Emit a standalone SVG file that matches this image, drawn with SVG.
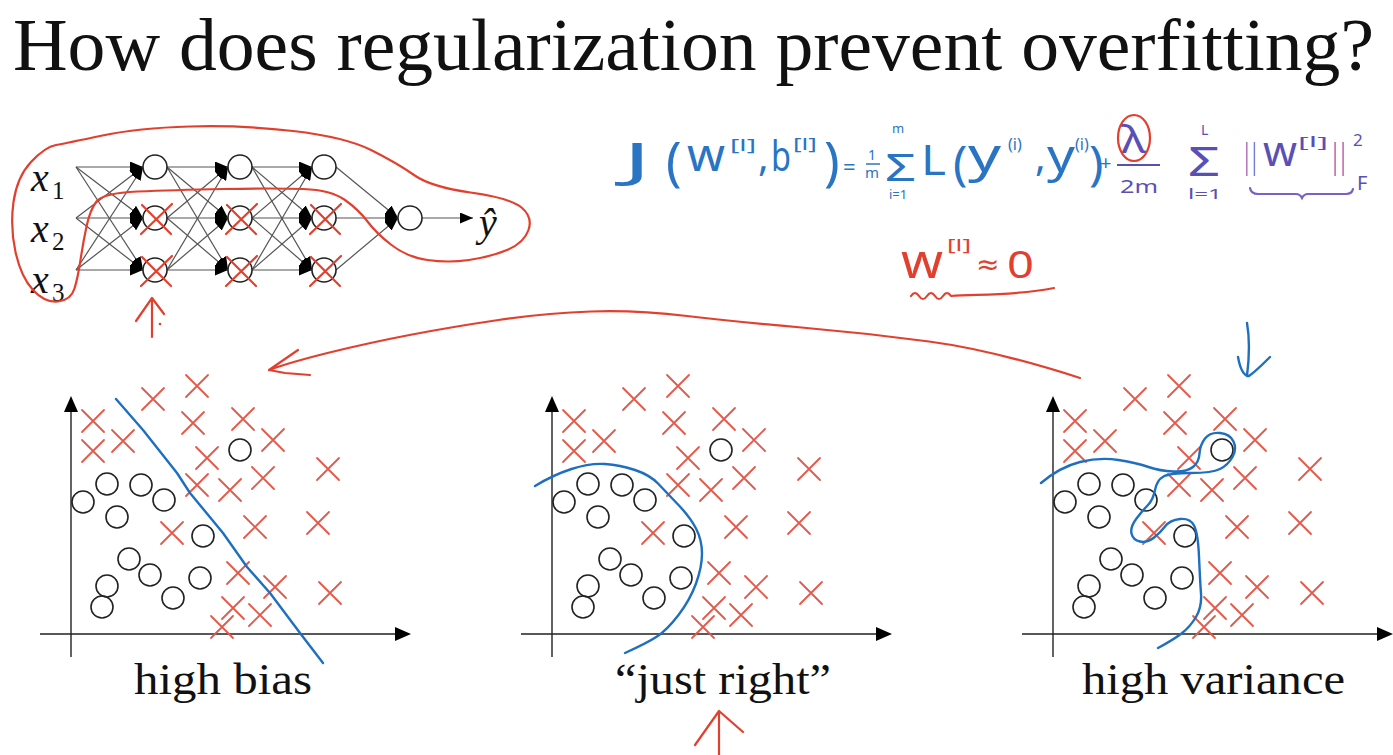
<svg xmlns="http://www.w3.org/2000/svg" xmlns:xlink="http://www.w3.org/1999/xlink" width="1393" height="755" viewBox="0 0 1393 755">
<style>
.ser{font-family:"Liberation Serif","Times New Roman",serif;fill:#111}
.it{font-style:italic}
.hw{font-family:"Noto Sans","DejaVu Sans",sans-serif}
.blue{fill:#2a74c4}
.purp{fill:#5a4fb5}
.redt{fill:#e2402f}
.edge{stroke:#555;stroke-width:1.2;fill:none}
.node{fill:#fff;stroke:#222;stroke-width:1.6}
.rx{stroke:#e5584a;stroke-width:1.8;fill:none;stroke-linecap:round}
.pc{fill:none;stroke:#222;stroke-width:1.6}
.ax{stroke:#222;stroke-width:1.4;fill:none}
.bl{fill:none;stroke:#1f6fc0;stroke-width:2.4;stroke-linecap:round;stroke-linejoin:round}
.rd{fill:none;stroke:#e2402f;stroke-width:2.2;stroke-linecap:round;stroke-linejoin:round}
.pu{fill:none;stroke:#7b5ec7;stroke-width:2.2;stroke-linecap:round}
</style>
<defs>
<marker id="ah" markerWidth="13" markerHeight="11" refX="13" refY="5.5" orient="auto" markerUnits="userSpaceOnUse"><path d="M0,0 L13,5.5 L0,11 z" fill="#000"/></marker>
<path id="xm" class="rx" d="M-11,-11 L11,11 M-11,11 L11,-11"/>
<path id="nx" class="rd" d="M-14,16 L17,-14 M-13,-13 L16,16"/>
<g id="axes">
<path class="ax" d="M71,657 L71,410 M40,634 L396,634"/>
<path d="M71,396 L64,412 L78,412 z M411,634 L395,627 L395,641 z" fill="#000"/>
</g>
<g id="pdata">
<use xlink:href="#xm" x="93" y="421"/><use xlink:href="#xm" x="93" y="451"/><use xlink:href="#xm" x="123" y="441"/>
<use xlink:href="#xm" x="153" y="399"/><use xlink:href="#xm" x="197" y="386"/><use xlink:href="#xm" x="193" y="423"/>
<use xlink:href="#xm" x="243" y="419"/><use xlink:href="#xm" x="273" y="440"/><use xlink:href="#xm" x="207" y="458"/>
<use xlink:href="#xm" x="197" y="485"/><use xlink:href="#xm" x="230" y="490"/><use xlink:href="#xm" x="263" y="478"/>
<use xlink:href="#xm" x="328" y="469"/><use xlink:href="#xm" x="255" y="527"/><use xlink:href="#xm" x="172" y="533"/>
<use xlink:href="#xm" x="318" y="523"/><use xlink:href="#xm" x="238" y="573"/><use xlink:href="#xm" x="275" y="587"/>
<use xlink:href="#xm" x="330" y="593"/><use xlink:href="#xm" x="233" y="608"/><use xlink:href="#xm" x="260" y="615"/>
<use xlink:href="#xm" x="222" y="627"/>
<circle class="pc" cx="240" cy="450" r="11"/><circle class="pc" cx="107" cy="484" r="11"/><circle class="pc" cx="141" cy="485" r="11"/>
<circle class="pc" cx="164" cy="500" r="11"/><circle class="pc" cx="83" cy="502" r="11"/><circle class="pc" cx="117" cy="517" r="11"/>
<circle class="pc" cx="203" cy="536" r="11"/><circle class="pc" cx="129" cy="559" r="11"/><circle class="pc" cx="150" cy="575" r="11"/>
<circle class="pc" cx="200" cy="578" r="11"/><circle class="pc" cx="107" cy="586" r="11"/><circle class="pc" cx="173" cy="598" r="11"/>
<circle class="pc" cx="102" cy="607" r="11"/>
</g>
</defs>
<rect width="1393" height="755" fill="#fff"/>

<text class="ser" x="13" y="70" font-size="74" textLength="1361" lengthAdjust="spacingAndGlyphs">How does regularization prevent overfitting?</text>

<!-- network connectors -->
<g id="connectors">
<g class="edge" marker-end="url(#ah)">
<line x1="76" y1="167" x2="143" y2="167"/><line x1="76" y1="167" x2="143" y2="218"/><line x1="76" y1="167" x2="143" y2="270"/>
<line x1="76" y1="218" x2="143" y2="167"/><line x1="76" y1="218" x2="143" y2="218"/><line x1="76" y1="218" x2="143" y2="270"/>
<line x1="76" y1="270" x2="143" y2="167"/><line x1="76" y1="270" x2="143" y2="218"/><line x1="76" y1="270" x2="143" y2="270"/>
<line x1="167" y1="167" x2="228" y2="167"/><line x1="167" y1="167" x2="228" y2="218"/><line x1="167" y1="167" x2="228" y2="270"/>
<line x1="167" y1="218" x2="228" y2="167"/><line x1="167" y1="218" x2="228" y2="218"/><line x1="167" y1="218" x2="228" y2="270"/>
<line x1="167" y1="270" x2="228" y2="167"/><line x1="167" y1="270" x2="228" y2="218"/><line x1="167" y1="270" x2="228" y2="270"/>
<line x1="252" y1="167" x2="312" y2="167"/><line x1="252" y1="167" x2="312" y2="218"/><line x1="252" y1="167" x2="312" y2="270"/>
<line x1="252" y1="218" x2="312" y2="167"/><line x1="252" y1="218" x2="312" y2="218"/><line x1="252" y1="218" x2="312" y2="270"/>
<line x1="252" y1="270" x2="312" y2="167"/><line x1="252" y1="270" x2="312" y2="218"/><line x1="252" y1="270" x2="312" y2="270"/>
<line x1="336" y1="167" x2="398" y2="218"/><line x1="336" y1="218" x2="398" y2="218"/><line x1="336" y1="270" x2="398" y2="218"/>
<line x1="422" y1="218" x2="473" y2="218"/>
</g>
</g>

<!-- network nodes -->
<g id="inputs">
<text class="ser it" x="31" y="191" font-size="40">x</text><text class="ser" x="52" y="199" font-size="25">1</text>
<text class="ser it" x="31" y="242" font-size="40">x</text><text class="ser" x="52" y="250" font-size="25">2</text>
<text class="ser it" x="31" y="293" font-size="40">x</text><text class="ser" x="52" y="301" font-size="25">3</text>
</g>
<g id="layer1"><circle class="node" cx="155" cy="167" r="12"/><circle class="node" cx="155" cy="218" r="12"/><circle class="node" cx="155" cy="270" r="12"/></g>
<g id="layer2"><circle class="node" cx="240" cy="167" r="12"/><circle class="node" cx="240" cy="218" r="12"/><circle class="node" cx="240" cy="270" r="12"/></g>
<g id="layer3"><circle class="node" cx="324" cy="167" r="12"/><circle class="node" cx="324" cy="218" r="12"/><circle class="node" cx="324" cy="270" r="12"/></g>
<g id="output"><circle class="node" cx="410" cy="218" r="12"/><text class="ser it" x="479" y="236" font-size="40">ŷ</text></g>

<!-- dropped-out units -->
<g id="dropout">
<use xlink:href="#nx" x="155" y="218"/><use xlink:href="#nx" x="240" y="218"/><use xlink:href="#nx" x="324" y="218"/>
<use xlink:href="#nx" x="155" y="270"/><use xlink:href="#nx" x="240" y="270"/><use xlink:href="#nx" x="324" y="270"/>
</g>
<path class="rd" d="M102.5,135.5 Q138,128 189.5,126.5 Q241,125 293,131 Q345,137 371,150 Q397,163 414,175 Q431,187 470.5,192.5 Q510,198 521.5,207.5 Q533,217 528.5,230 Q524,243 507,250 Q490,257 469,260 Q448,263 427.5,260 Q407,257 391.5,245 Q376,233 367.5,221.5 Q359,210 345,200 Q331,190 303.5,189 Q276,188 224,189 Q172,190 137.5,191.5 Q103,193 96.5,201.5 Q90,210 86.5,226.5 Q83,243 80.5,260 Q78,277 74.5,288.5 Q71,300 58,301.5 Q45,303 33,290 Q21,277 15.5,252 Q10,227 13.5,202 Q17,177 31,162 Q45,147 56,145 Q67,143 102.5,135.5"/>
<path class="rd" d="M152,337 L152,298 M136,321 L152,298 L164,314"/>
<circle cx="160" cy="324" r="1.3" fill="#e2402f"/>

<!-- cost function -->
<g id="formula" class="hw">
<text class="blue" x="623" y="177" font-size="48" textLength="28" lengthAdjust="spacingAndGlyphs">J</text>
<text class="blue" x="666" y="180" font-size="52">(</text>
<text class="blue" x="687" y="171" font-size="46" textLength="38" lengthAdjust="spacingAndGlyphs">w</text>
<text class="blue" x="730" y="151" font-size="17" textLength="26" lengthAdjust="spacingAndGlyphs">[l]</text>
<text class="blue" x="758" y="171" font-size="40">,</text>
<text class="blue" x="771" y="171" font-size="42" textLength="20" lengthAdjust="spacingAndGlyphs">b</text>
<text class="blue" x="793" y="150" font-size="17" textLength="24" lengthAdjust="spacingAndGlyphs">[l]</text>
<text class="blue" x="824" y="180" font-size="52">)</text>
<text class="blue" x="843" y="175" font-size="22">=</text>
<text class="blue" x="868" y="160" font-size="14">1</text>
<line x1="866" y1="164" x2="880" y2="164" stroke="#2a74c4" stroke-width="1.5"/>
<text class="blue" x="865" y="178" font-size="15">m</text>
<text class="blue" x="885" y="181" font-size="38" textLength="31" lengthAdjust="spacingAndGlyphs">Σ</text>
<text class="blue" x="892" y="133" font-size="13">m</text>
<text class="blue" x="889" y="199" font-size="13">i=1</text>
<text class="blue" x="921" y="175" font-size="42" textLength="25" lengthAdjust="spacingAndGlyphs">L</text>
<text class="blue" x="953" y="180" font-size="48">(</text>
<text class="blue" x="968" y="172" font-size="48" textLength="33" lengthAdjust="spacingAndGlyphs">y</text>
<text class="blue" x="1008" y="150" font-size="16">(i)</text>
<text class="blue" x="1035" y="171" font-size="40">,</text>
<text class="blue" x="1047" y="172" font-size="46" textLength="28" lengthAdjust="spacingAndGlyphs">y</text>
<text class="blue" x="1075" y="150" font-size="16">(i)</text>
<text class="blue" x="1089" y="180" font-size="48">)</text>
<text class="blue" x="1100" y="170" font-size="20">+</text>
<text class="purp" x="1121" y="153" font-size="38" textLength="25" lengthAdjust="spacingAndGlyphs">λ</text>
<line x1="1117" y1="165" x2="1160" y2="165" stroke="#5a4fb5" stroke-width="1.8"/>
<text class="purp" x="1120" y="193" font-size="18" textLength="38" lengthAdjust="spacingAndGlyphs">2m</text>
<text class="purp" x="1188" y="176" font-size="40" textLength="32" lengthAdjust="spacingAndGlyphs">Σ</text>
<text class="purp" x="1201" y="135" font-size="14">L</text>
<text class="purp" x="1188" y="199" font-size="14" textLength="34" lengthAdjust="spacingAndGlyphs">l=1</text>
<text class="purp" x="1243" y="168" font-size="34" textLength="15" lengthAdjust="spacingAndGlyphs">||</text>
<text class="purp" x="1263" y="166" font-size="42" textLength="34" lengthAdjust="spacingAndGlyphs">w</text>
<text class="purp" x="1298" y="147" font-size="14" textLength="30" lengthAdjust="spacingAndGlyphs">[l]</text>
<text class="purp" x="1331" y="168" font-size="34" textLength="16" lengthAdjust="spacingAndGlyphs">||</text>
<text class="purp" x="1353" y="146" font-size="17">2</text>
<text class="purp" x="1357" y="190" font-size="20">F</text>
</g>
<path class="pu" d="M1250,188 Q1251,194 1258,194 L1296,194 Q1300,194 1302,198 Q1304,194 1308,194 L1346,194 Q1352,194 1353,189"/>
<ellipse cx="1134" cy="138" rx="16" ry="23" class="rd"/>

<g id="wzero" class="hw">
<text class="redt" x="901" y="278" font-size="48" textLength="42" lengthAdjust="spacingAndGlyphs">w</text>
<text class="redt" x="947" y="251" font-size="16" textLength="24" lengthAdjust="spacingAndGlyphs">[l]</text>
<text class="redt" x="976" y="274" font-size="28">≈</text>
<text class="redt" x="1007" y="278" font-size="38" textLength="27" lengthAdjust="spacingAndGlyphs">0</text>
</g>
<path class="rd" d="M911,296 q4,-6 8,0 q4,6 8,0 q4,-6 8,0 q4,6 8,0 q4,-6 8,0 C975,294 1015,296 1054,288"/>

<!-- big red arrow -->
<path class="rd" d="M1080,378 Q993,350 929,341.5 Q865,333 801.5,327.5 Q738,322 687,316 Q636,310 591,311.5 Q546,313 498.5,320 Q451,327 409.5,335 Q368,343 329.5,352.5 Q291,362 269,370 M298,350 L269,370 L285,373 L310,375"/>

<!-- plots -->
<g id="plot-high-bias">
<use xlink:href="#axes"/>
<use xlink:href="#pdata"/>
<polyline class="bl" points="116,399 143,430 177,473 190,493 223,533 247,567 270,593 300,633 323,663"/>
<text class="ser" x="134" y="694" font-size="44" textLength="178" lengthAdjust="spacingAndGlyphs">high bias</text>
</g>
<g id="plot-just-right">
<use xlink:href="#axes" x="481"/>
<use xlink:href="#pdata" x="481"/>
<path class="bl" d="M535,486 Q553,475 571.5,469 Q590,463 605,464 Q620,465 635,470 Q650,475 658.5,484 Q667,493 678.5,505 Q690,517 696,528.5 Q702,540 702,553.5 Q702,567 696,583.5 Q690,600 678.5,615 Q667,630 657,636.5 Q647,643 625,653"/>
<text class="ser" x="615" y="694" font-size="44" textLength="216" lengthAdjust="spacingAndGlyphs">“just right”</text>
</g>
<g id="plot-high-variance">
<use xlink:href="#axes" x="982"/>
<use xlink:href="#pdata" x="982"/>
<path class="bl" d="M1041,483 Q1060,467 1080,462 Q1100,457 1118.5,460 Q1137,463 1148.5,467 Q1160,471 1173.5,471.5 Q1187,472 1193,467 Q1199,462 1199.5,453.5 Q1200,445 1205,438.5 Q1210,432 1220,433 Q1230,434 1233.5,441.5 Q1237,449 1232.5,457 Q1228,465 1220,469 Q1212,473 1191,473 Q1170,473 1163.5,476.5 Q1157,480 1155,490 Q1153,500 1148,505 Q1143,510 1136.5,518.5 Q1130,527 1131.5,533.5 Q1133,540 1140,541.5 Q1147,543 1153.5,538 Q1160,533 1165,526.5 Q1170,520 1180,519 Q1190,518 1194,525.5 Q1198,533 1199,556.5 Q1200,580 1201,593.5 Q1202,607 1196,617 Q1190,627 1181.5,633.5 Q1173,640 1158,648"/>
<text class="ser" x="1082" y="694" font-size="44" textLength="263" lengthAdjust="spacingAndGlyphs">high variance</text>
</g>
<path class="bl" d="M1247,323 C1250,340 1249,360 1247,376 M1238,357 C1240,368 1243,376 1249,376 C1255,372 1263,364 1270,357"/>
<path class="rd" d="M719,755 L719,711 M695,745 L719,711 L743,732"/>
</svg>
